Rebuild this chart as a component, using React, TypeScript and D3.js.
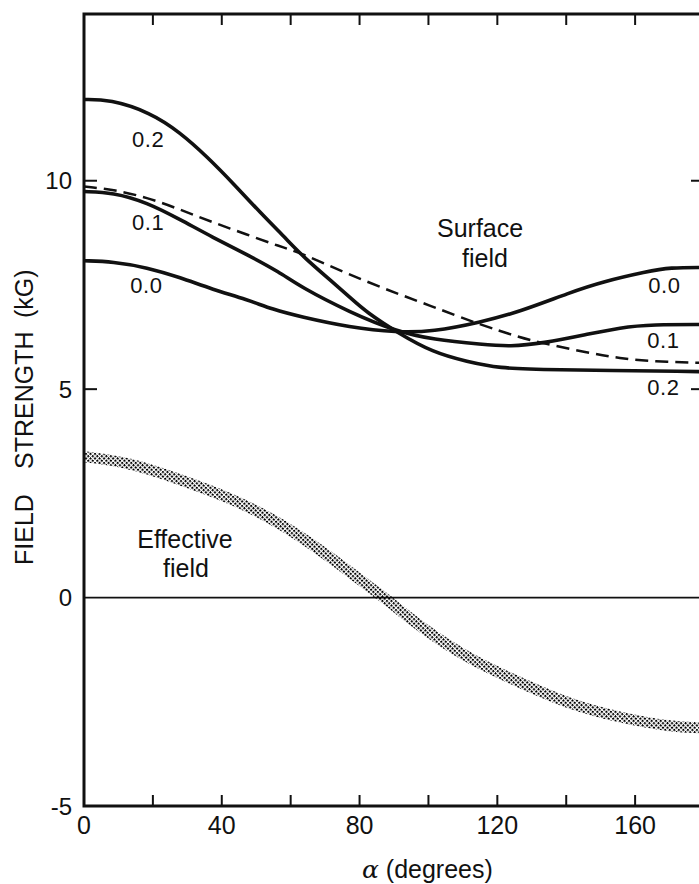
import React from "react";
import * as d3 from "d3";

// Surface field curves (angle in degrees, field in kG)
const curve00: [number, number][] = [
  [0, 8.08], [8.4, 8.06], [18.3, 7.92], [27.9, 7.68], [37.4, 7.39], [47.3, 7.15], [54.9, 6.91],
  [62.7, 6.74], [77.2, 6.48], [90.9, 6.36], [101.3, 6.38], [114.9, 6.6], [126.6, 6.86],
  [141.1, 7.32], [150.7, 7.58], [163.4, 7.82], [170.1, 7.92], [180, 7.92],
];
const curve01: [number, number][] = [
  [0, 9.74], [8.4, 9.72], [18.3, 9.48], [27.9, 9.07], [37.4, 8.64], [47.3, 8.23], [56.9, 7.8],
  [62.7, 7.46], [77.2, 6.84], [90.9, 6.38], [101.3, 6.19], [115.8, 6.07], [123.7, 6.02],
  [133.2, 6.1], [146, 6.31], [155.6, 6.48], [165.2, 6.55], [180, 6.55],
];
const curve02: [number, number][] = [
  [0, 11.95], [7.5, 11.95], [19.2, 11.64], [27.9, 11.16], [35.7, 10.58], [43.3, 9.94], [51.1, 9.24],
  [58.9, 8.59], [63.6, 8.18], [72.3, 7.56], [77.2, 7.2], [82.1, 6.84], [90.9, 6.36], [101.3, 5.88],
  [111.2, 5.66], [120.8, 5.5], [132.4, 5.47], [180, 5.42],
];
const dashedCurve: [number, number][] = [
  [0, 9.86], [8.4, 9.79], [18.3, 9.6], [27.9, 9.31], [37.4, 9.0], [47.3, 8.71], [56.9, 8.42],
  [62.7, 8.28], [82.1, 7.56], [101.3, 6.98], [114.9, 6.55], [126.6, 6.24], [133.2, 6.1],
  [146, 5.88], [155.6, 5.74], [165.2, 5.66], [180, 5.63],
];
const effectiveField: [number, number][] = [
  [0, 3.38], [13.4, 3.24], [27.9, 2.83], [42.4, 2.4], [56.9, 1.8], [71.4, 0.98], [83.9, 0.19],
  [88, -0.05], [97.5, -0.7], [112, -1.49], [126.6, -2.04], [141.1, -2.57], [155.6, -2.88],
  [170.1, -3.1], [180, -3.13],
];

const xTicks = [0, 20, 40, 60, 80, 100, 120, 140, 160, 180];
const xTickLabels = [0, 40, 80, 120, 160];
const yTicks = [5, 10];
const yTickLabels = [10, 5, 0, -5];

// annotations [label, deg, value]
const curveLabels: [string, number, number][] = [
  ["0.2", 13.9, 10.81],
  ["0.1", 13.9, 8.82],
  ["0.0", 13.4, 7.31],
  ["0.0", 163.8, 7.31],
  ["0.1", 163.5, 5.99],
  ["0.2", 163.5, 4.86],
];
const textLabels: [string, number, number][] = [
  ["Surface", 115, 8.65],
  ["field", 116.4, 7.93],
  ["Effective", 29.3, 1.19],
  ["field", 29.6, 0.49],
];

export default function App() {
  const W = 699, H = 884;
  const x = d3.scaleLinear().domain([0, 180]).range([84, 704]);
  const y = d3.scaleLinear().domain([-5, 14]).range([806, 14]);
  const line = d3
    .line<[number, number]>()
    .x((d) => x(d[0]))
    .y((d) => y(d[1]))
    .curve(d3.curveBasis);
  const font = "'Liberation Sans', Arial, Helvetica, sans-serif";
  const x0 = x(0), x1 = x(180), yTop = y(14), yBot = y(-5);
  return (
    <svg
      width={W}
      height={H}
      style={{ position: "absolute", left: 0, top: 0, background: "#fff" }}
      fontFamily={font}
    >
      <defs>
        <pattern id="stip" width={3.2} height={3.2} patternUnits="userSpaceOnUse" patternTransform="rotate(45)">
          <rect x={0} y={0} width={2} height={2} fill="#000" />
        </pattern>
      </defs>
      <rect x={0} y={0} width={W} height={H} fill="#fff" />

      {/* zero line */}
      <line x1={x0} x2={x1} y1={y(0)} y2={y(0)} stroke="#111" strokeWidth={1.8} />

      {/* effective field band */}
      <path d={line(effectiveField) || ""} fill="none" stroke="url(#stip)" strokeWidth={11} />

      {/* surface field curves */}
      {[curve00, curve01, curve02].map((c, i) => (
        <path key={i} d={line(c) || ""} fill="none" stroke="#111" strokeWidth={3.6} />
      ))}
      <path d={line(dashedCurve) || ""} fill="none" stroke="#111" strokeWidth={2.5} strokeDasharray="13 7" />

      {/* frame */}
      <path
        d={`M${x0},${yTop}L${x1},${yTop}L${x1},${yBot}L${x0},${yBot}Z`}
        fill="none"
        stroke="#111"
        strokeWidth={3}
      />
      {xTicks.map((t) => (
        <g key={"xt" + t}>
          <line x1={x(t)} x2={x(t)} y1={yBot} y2={yBot - 11} stroke="#111" strokeWidth={2} />
          <line x1={x(t)} x2={x(t)} y1={yTop} y2={yTop + 11} stroke="#111" strokeWidth={2} />
        </g>
      ))}
      {yTicks.map((t) => (
        <g key={"yt" + t}>
          <line x1={x0} x2={x0 + 13} y1={y(t)} y2={y(t)} stroke="#111" strokeWidth={2} />
          <line x1={x1} x2={x1 - 13} y1={y(t)} y2={y(t)} stroke="#111" strokeWidth={2} />
        </g>
      ))}

      {/* tick labels */}
      {xTickLabels.map((t) => (
        <text key={"xl" + t} x={x(t)} y={834} textAnchor="middle" fontSize={25} fill="#111">
          {t}
        </text>
      ))}
      {yTickLabels.map((t) => (
        <text key={"yl" + t} x={72} y={y(t) + 8.5} textAnchor="end" fontSize={24} fill="#111">
          {t}
        </text>
      ))}

      {/* axis titles */}
      <text x={362} y={878} fontSize={25} fill="#111">
        <tspan fontFamily="'DejaVu Serif', 'Liberation Serif', serif" fontStyle="italic">α</tspan>
        <tspan> (degrees)</tspan>
      </text>
      <g transform="translate(33,0) rotate(-90)">
        <text x={-565} y={0} fontSize={25} fill="#111">FIELD</text>
        <text x={-469} y={0} fontSize={25} fill="#111">STRENGTH</text>
        <text x={-318} y={0} fontSize={25} fill="#111">(kG)</text>
      </g>

      {/* curve labels */}
      {curveLabels.map(([s, d, v], i) => (
        <text key={"cl" + i} x={x(d)} y={y(v)} fontSize={22} letterSpacing={0.6} fill="#111">
          {s}
        </text>
      ))}
      {textLabels.map(([s, d, v], i) => (
        <text key={"tl" + i} x={x(d)} y={y(v)} textAnchor="middle" fontSize={25} fill="#111">
          {s}
        </text>
      ))}
    </svg>
  );
}
